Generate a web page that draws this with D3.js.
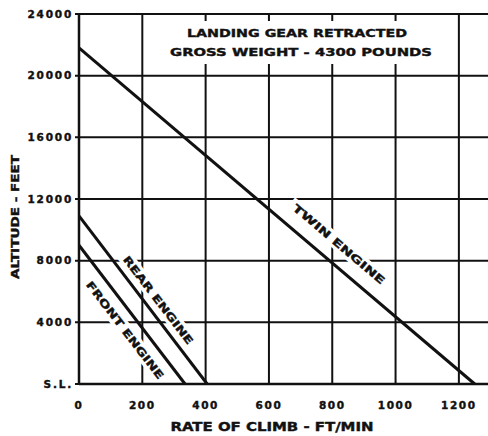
<!DOCTYPE html>
<html>
<head>
<meta charset="utf-8">
<script src="https://d3js.org/d3.v7.min.js"></script>
<style>
  body { margin: 0; background: #fff; }
  svg text { font-family: "DejaVu Sans", sans-serif; font-weight: bold; fill: #111; stroke: #111; stroke-width: 0.4px; }
</style>
</head>
<body>
<script>
// ticks
var rateTicks = [0, 200, 400, 600, 800, 1000, 1200];          // ft/min
var altTicks = [0, 4000, 8000, 12000, 16000, 20000, 24000];    // feet
var altLabels = ["S.L.", "4000", "8000", "12000", "16000", "20000", "24000"];

// the three straight curves, start and end points (rate ft/min, altitude ft)
var engines = ["TWIN ENGINE", "REAR ENGINE", "FRONT ENGINE"];
var engineRate = [[0, 1250], [0, 405], [0, 335]];
var engineAlt = [[21800, 0], [10900, 0], [9000, 0]];

var titleLines = ["LANDING GEAR RETRACTED", "GROSS WEIGHT - 4300 POUNDS"];

var W = 488, H = 436;
var m = {left: 79, top: 14, right: 0, bottom: 52};

var svg = d3.select("body").append("svg")
  .attr("width", W)
  .attr("height", H);

var x = d3.scaleLinear().domain([0, 1292]).range([m.left, W - m.right]);
var y = d3.scaleLinear().domain([0, 24000]).range([H - m.bottom, m.top]);

var ink = "#111";

// grid (vertical + horizontal), heavy like the printed chart
svg.append("g").selectAll("line.v")
  .data(rateTicks)
  .enter().append("line")
  .attr("x1", function (d) { return x(d); })
  .attr("x2", function (d) { return x(d); })
  .attr("y1", y(24000))
  .attr("y2", y(0))
  .attr("stroke", ink)
  .attr("stroke-width", 2);

svg.append("g").selectAll("line.h")
  .data(altTicks)
  .enter().append("line")
  .attr("x1", x(0) - 4)
  .attr("x2", W)
  .attr("y1", function (d) { return y(d); })
  .attr("y2", function (d) { return y(d); })
  .attr("stroke", ink)
  .attr("stroke-width", 2);

// axis tick labels
svg.append("g").selectAll("text")
  .data(altTicks)
  .enter().append("text")
  .attr("x", x(0) - 6)
  .attr("y", function (d) { return y(d); })
  .attr("dy", "0.36em")
  .attr("text-anchor", "end")
  .style("font-size", "10.5px")
  .style("letter-spacing", "1.8px")
  .text(function (d, i) { return altLabels[i]; });

svg.append("g").selectAll("text")
  .data(rateTicks)
  .enter().append("text")
  .attr("x", function (d) { return x(d); })
  .attr("y", y(0) + 25)
  .attr("text-anchor", "middle")
  .style("font-size", "10.5px")
  .style("letter-spacing", "1.6px")
  .text(function (d) { return d; });

// axis titles
svg.append("text")
  .attr("x", 272)
  .attr("y", 431)
  .attr("text-anchor", "middle")
  .attr("textLength", 203)
  .attr("lengthAdjust", "spacingAndGlyphs")
  .style("font-size", "11.5px")
  .text("RATE OF CLIMB - FT/MIN");

svg.append("text")
  .attr("transform", "translate(19,217) rotate(-90)")
  .attr("text-anchor", "middle")
  .attr("textLength", 124)
  .attr("lengthAdjust", "spacingAndGlyphs")
  .style("font-size", "11px")
  .text("ALTITUDE - FEET");

// title block punches a hole in the grid
svg.append("rect")
  .attr("x", 163).attr("y", 21)
  .attr("width", 282).attr("height", 43)
  .attr("fill", "#fff");

svg.selectAll("text.title")
  .data(titleLines)
  .enter().append("text")
  .attr("x", function (d, i) { return i ? 301 : 297; })
  .attr("y", function (d, i) { return i ? 56 : 37; })
  .attr("text-anchor", "middle")
  .attr("textLength", function (d, i) { return i ? 262 : 220; })
  .attr("lengthAdjust", "spacingAndGlyphs")
  .style("font-size", "11px")
  .text(function (d) { return d; });

// curve names, rotated along each line; white halo breaks the grid like the print
var labelAt = [[821, 9070, 117], [250, 5440, 108], [145, 3500, 120]]; // rate, alt, length

function placeLabel(sel) {
  sel.attr("transform", function (d, i) {
      var r = engineRate[i], a = engineAlt[i];
      var ang = Math.atan2(y(a[1]) - y(a[0]), x(r[1]) - x(r[0])) * 180 / Math.PI;
      return "translate(" + x(labelAt[i][0]) + "," + y(labelAt[i][1]) + ") rotate(" + ang + ")";
    })
    .attr("dy", "0.36em")
    .attr("text-anchor", "middle")
    .attr("textLength", function (d, i) { return labelAt[i][2]; })
    .attr("lengthAdjust", "spacingAndGlyphs")
    .style("font-size", "10.5px")
    .text(function (d) { return d; });
}

// halo pass first
svg.append("g").selectAll("text")
  .data(engines)
  .enter().append("text")
  .call(placeLabel)
  .style("fill", "#fff")
  .style("stroke", "#fff")
  .style("stroke-width", "7px");

// the curves themselves
var line = d3.line()
  .x(function (d) { return x(d[0]); })
  .y(function (d) { return y(d[1]); });

svg.append("g").selectAll("path")
  .data(engines)
  .enter().append("path")
  .attr("d", function (d, i) {
    return line(d3.zip(engineRate[i], engineAlt[i]));
  })
  .attr("fill", "none")
  .attr("stroke", ink)
  .attr("stroke-width", 3);

// the ink of the names
svg.append("g").selectAll("text")
  .data(engines)
  .enter().append("text")
  .call(placeLabel);

// axes on top
svg.append("line")
  .attr("x1", x(0)).attr("x2", x(0))
  .attr("y1", y(24000) - 1).attr("y2", y(0) + 1)
  .attr("stroke", ink).attr("stroke-width", 2.5);
svg.append("line")
  .attr("x1", x(0)).attr("x2", W)
  .attr("y1", y(0)).attr("y2", y(0))
  .attr("stroke", ink).attr("stroke-width", 2.5);
</script>
</body>
</html>
